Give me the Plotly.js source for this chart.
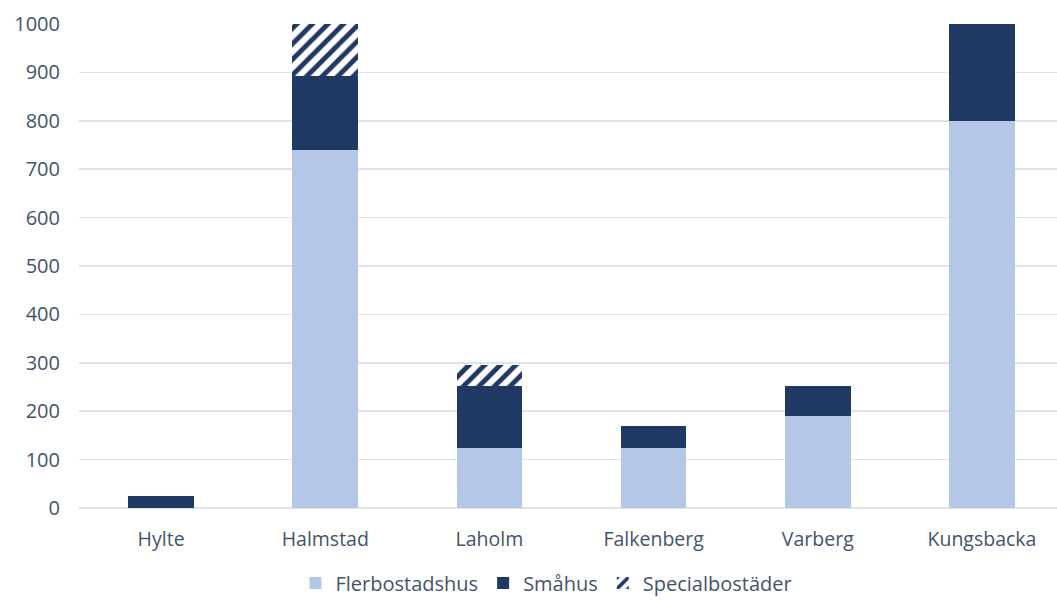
<!DOCTYPE html>
<html>
<head>
<meta charset="utf-8">
<script src="https://cdn.plot.ly/plotly-3.0.1.min.js"></script>
<style>
  html, body { margin: 0; padding: 0; background: #fff; }
  #chart { width: 1057px; height: 601px; }
</style>
</head>
<body>
<div id="chart"></div>
<script>
// kommuner i Halland
const kommuner = ['Hylte', 'Halmstad', 'Laholm', 'Falkenberg', 'Varberg', 'Kungsbacka'];

// antal bostäder per hustyp
const flerbostadshus = [0, 740, 125, 125, 190, 800];
const smahus = [25, 153, 128, 45, 62, 200];
const specialbostader = [0, 107, 42, 0, 0, 0];

const ljusBla = '#b4c7e7';
const morkBla = '#1f3864';
const textFarg = '#44546a';

var data = [
  {
    x: kommuner,
    y: flerbostadshus,
    type: 'bar',
    name: 'Flerbostadshus',
    width: 0.4,
    marker: { color: ljusBla, line: { width: 0 } }
  },
  {
    x: kommuner,
    y: smahus,
    type: 'bar',
    name: 'Småhus',
    width: 0.4,
    marker: { color: morkBla, line: { width: 0 } }
  },
  {
    x: kommuner,
    y: specialbostader,
    type: 'bar',
    name: 'Specialbostäder',
    width: 0.4,
    marker: {
      color: '#ffffff',
      line: { width: 0 },
      pattern: { shape: '/', fgcolor: morkBla, bgcolor: '#ffffff', size: 11, solidity: 0.45 }
    }
  }
];

var layout = {
  width: 1057,
  height: 601,
  barmode: 'stack',
  paper_bgcolor: '#ffffff',
  plot_bgcolor: '#ffffff',
  margin: { l: 79, r: 0, t: 24, b: 93, autoexpand: false },
  font: { family: 'Open Sans, Lato, sans-serif', color: textFarg },
  xaxis: {
    range: [-0.5, 5.457],
    showgrid: false,
    showline: false,
    zeroline: false,
    ticks: '',
    tickfont: { size: 19.5, color: textFarg },
    ticklabelstandoff: 17
  },
  yaxis: {
    range: [0, 1000],
    dtick: 100,
    showgrid: true,
    gridcolor: '#dfe3ea',
    gridwidth: 1.5,
    zeroline: true,
    zerolinecolor: '#dfe3ea',
    zerolinewidth: 1.5,
    showline: false,
    ticks: '',
    tickfont: { size: 20, color: textFarg },
    ticklabelstandoff: 18
  },
  showlegend: true,
  legend: {
    orientation: 'h',
    xref: 'container',
    yref: 'container',
    x: 0.517,
    xanchor: 'center',
    y: 0.03,
    yanchor: 'middle',
    traceorder: 'normal',
    font: { size: 20, color: textFarg },
    itemwidth: 30
  }
};

Plotly.newPlot('chart', data, layout, { displayModeBar: false, staticPlot: true });
</script>
</body>
</html>
